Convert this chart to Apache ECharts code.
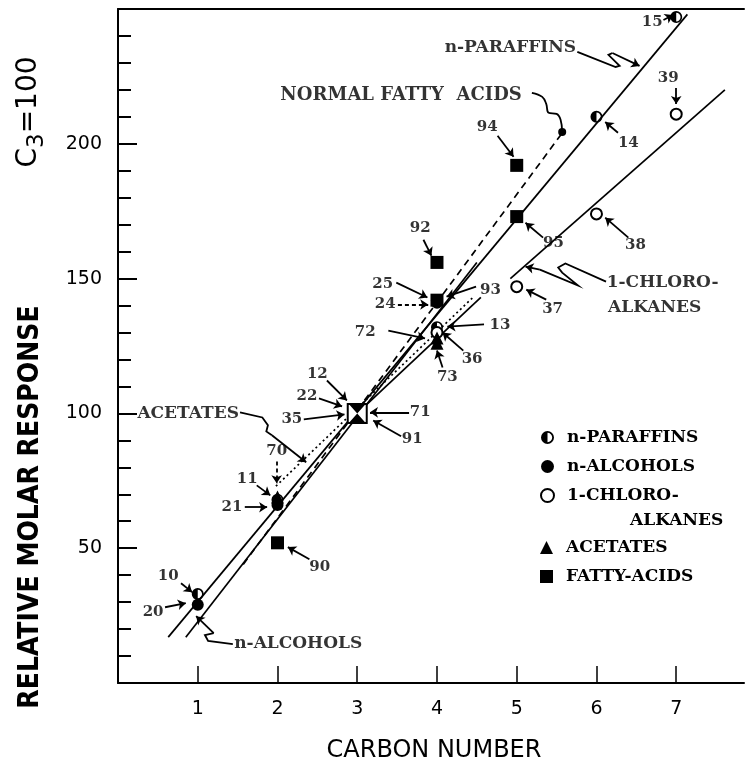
<!DOCTYPE html>
<html><head><meta charset="utf-8">
<script src="https://cdn.jsdelivr.net/npm/echarts@6/dist/echarts.min.js"></script>
<style>html,body{margin:0;padding:0;background:#fff}#c{width:749px;height:768px}</style>
</head><body><div id="c"></div>
<script>
// ---- data (carbon number, relative molar response, C3 = 100) ----
const paraffins      = [[1,33],[2,68],[3,100],[4,132],[6,210],[7,247]];
const paraffinIds    = [10,11,12,13,14,15];
const alcohols       = [[1,29],[2,66],[3,100],[4,141],[4,142]];
const alcoholIds     = [20,21,22,24,25];
const chloroalkanes  = [[3,100],[4,130],[5,147],[6,174],[7,211]];
const chloroIds      = [35,36,37,38,39];
const acetates       = [[2,69],[3,100],[4,128],[4,126]];
const acetateIds     = [70,71,72,73];
const fattyAcids     = [[2,52],[3,100],[4,156],[4,142],[5,192],[5,173]];
const fattyIds       = [90,91,92,93,94,95];

// fitted lines drawn in the figure
const paraffinLine   = [[0.63,17],[7.14,248]];
const alcoholLine    = [[0.85,17],[4.5,156]];
const fattyLine      = [[1.57,44],[5.57,204]];
const acetateLine    = [[1.98,73],[4.45,143]];
const chloroLineLow  = [[3,100],[4.55,143]];
const chloroLineHigh = [[4.92,150],[7.61,220]];

// axis ticks
const xTicks = [1,2,3,4,5,6,7];
const yTickLabels = [50,100,150,200];

// ---- annotations (data coordinates) ----
const annotTexts = [
  ['15',6.70,245.2],['n-PARAFFINS',4.92,235.6,17],['39',6.90,224.4],['NORMAL FATTY  ACIDS',3.55,218.1,18],
  ['94',4.63,206.3],['14',6.40,200.4],['92',3.79,168.9],['95',5.46,163.3],['38',6.49,162.6],
  ['1-CHLORO-',6.83,148.5,17],['ALKANES',6.73,139.3,17],['37',5.45,138.5],['25',3.32,147.8],['24',3.35,140.4],
  ['93',4.67,145.9],['13',4.79,132.6],['72',3.10,130.0],['36',4.44,120.0],['73',4.13,113.3],
  ['12',2.50,114.4],['22',2.37,106.3],['35',2.18,97.8],['71',3.79,100.4],['91',3.69,90.4],
  ['ACETATES',0.88,100.0,17],['70',1.99,85.9],['11',1.62,75.6],['21',1.43,65.2],['90',2.53,43.0],
  ['10',0.63,39.6],['20',0.44,26.3],['n-ALCOHOLS',2.26,14.8,17]
];
const annotArrows = [
  [[6.84,245.9],[6.96,247.8]],[[7.0,220.7],[7.0,214.8]],[[4.76,203.0],[4.96,195.2]],
  [[6.27,204.1],[6.11,208.1]],[[3.83,164.4],[3.93,158.5]],[[5.33,165.2],[5.11,170.7]],
  [[6.40,165.2],[6.11,172.6]],[[5.37,142.2],[5.12,145.9]],[[3.49,148.5],[3.88,143.0]],
  [[4.49,147.0],[4.12,143.3]],[[4.59,133.0],[4.13,132.2]],[[3.39,130.7],[3.85,127.8]],
  [[4.33,123.3],[4.07,130.0]],[[4.07,117.0],[4.0,123.3]],[[2.62,112.2],[2.87,104.8]],
  [[2.52,105.6],[2.81,102.6]],[[2.33,97.8],[2.84,99.6]],[[3.65,100.4],[3.16,100.4]],
  [[3.55,91.5],[3.20,97.4]],[[1.74,73.3],[1.91,69.6]],[[1.59,65.2],[1.87,65.2]],
  [[2.40,45.9],[2.13,50.4]],[[0.79,37.0],[0.93,33.7]],[[0.59,28.1],[0.85,29.6]]
];
const dashedArrows = [[[3.51,140.4],[3.89,140.4]],[[1.99,82.2],[1.99,74.1]]];
const squiggles = [
  [[5.76,234.1],[6.24,228.5],[6.29,228.9],[6.15,233.0],[6.20,233.7],[6.54,228.9]],
  [[6.12,148.9],[5.61,155.6],[5.52,154.1],[5.57,152.2],[5.77,147.4],[5.29,153.3],[5.11,154.4]],
  [[1.53,100.4],[1.81,98.5],[1.88,95.6],[1.86,93.3],[1.93,91.9],[2.36,81.9]],
  [[1.44,14.4],[1.13,15.6],[1.09,17.8],[1.20,18.5],[0.98,24.8]]
];
const fattyCurve = [[5.19,218.9],[5.32,217.4],[5.37,214.8],[5.40,211.5],[5.50,211.1],[5.55,208.9],[5.57,204.4]];

// ---- build ----
const serif = "'DejaVu Serif', 'Liberation Serif', serif";
const sans = "'DejaVu Sans', sans-serif";
const halfCircle = 'path://M50,0 A50,50 0 1,1 50,100 A50,50 0 1,1 50,0 Z M50,14 L50,86 A36,36 0 0,0 50,14 Z';
const hourglass = 'path://M0,0 L20,0 L10,10 Z M10,10 L20,20 L0,20 Z';

function pts(arr, ids, special) {
  return arr.map((p,i) => {
    const it = {name: String(ids[i]), value: p};
    if (p[0] === 3 && special) Object.assign(it, special);
    return it;
  });
}
function fitLine(name, data, type) {
  return {type:'line', name, data, symbol:'none', showSymbol:false, silent:true,
    lineStyle:{color:'#000', width:1.7, type}, z:2};
}
const squiggleArrows = squiggles.map(s => [s[s.length-2], s[s.length-1]]);

const blk = '#000';
const legendText = {color:blk, fontFamily:serif, fontWeight:'bold', fontSize:17, padding:[0,0,0,8]};
const option = {
  animation:false,
  backgroundColor:'#fff',
  grid:{left:118, top:9, right:5, bottom:84, containLabel:false},
  xAxis:[{
    type:'value', min:0, max:7.85, interval:1,
    axisLine:{show:true, onZero:false, lineStyle:{color:blk, width:2}},
    axisTick:{show:true, inside:true, length:17, customValues:xTicks, lineStyle:{color:blk, width:1.5}},
    axisLabel:{margin:17, color:blk, fontSize:19, fontFamily:sans, customValues:xTicks},
    splitLine:{show:false},
    name:'CARBON NUMBER', nameLocation:'middle', nameGap:56,
    nameTextStyle:{color:blk, fontSize:24, fontFamily:sans, padding:[0,0,0,6]}
  },{
    type:'value', position:'top', min:0, max:7.85,
    axisLine:{show:true, onZero:false, lineStyle:{color:blk, width:2}},
    axisTick:{show:false}, axisLabel:{show:false}, splitLine:{show:false}
  }],
  yAxis:{
    type:'value', min:0, max:250, interval:50,
    axisLine:{show:true, onZero:false, lineStyle:{color:blk, width:2}},
    axisTick:{show:true, inside:true, length:19, lineStyle:{color:blk, width:2}},
    minorTick:{show:true, splitNumber:5, length:13, lineStyle:{color:blk, width:2}},
    axisLabel:{margin:16, color:blk, fontSize:19, fontFamily:sans,
      formatter:v => yTickLabels.includes(v) ? String(v) : ''},
    splitLine:{show:false}, minorSplitLine:{show:false}
  },
  legend:[{
    orient:'vertical', left:540, top:429, padding:0, itemWidth:13, itemHeight:13, itemGap:12,
    data:['n-PARAFFINS','n-ALCOHOLS','1-CHLORO-ALKANES'],
    formatter:n => n === '1-CHLORO-ALKANES' ? '1-CHLORO-' : n,
    textStyle:legendText, selectedMode:false
  },{
    orient:'vertical', left:540, top:539, padding:0, itemWidth:13, itemHeight:13, itemGap:12,
    data:['ACETATES','FATTY-ACIDS'],
    textStyle:legendText, selectedMode:false
  }],
  graphic:[
    {type:'text', left:630, top:512, style:{text:'ALKANES', fill:blk, font:"bold 17px 'DejaVu Serif'"}},
    {type:'text', x:31, y:507, rotation:Math.PI/2,
      style:{text:'RELATIVE MOLAR RESPONSE', fill:blk, align:'center', verticalAlign:'middle',
        font:"bold 28px 'DejaVu Sans Condensed', 'Liberation Sans Narrow', 'DejaVu Sans'"}},
    {type:'text', x:29, y:112, rotation:Math.PI/2,
      style:{text:'C{s|3}=100', fill:blk, align:'center', verticalAlign:'middle',
        font:"28px 'DejaVu Sans'", rich:{s:{fontSize:23, fontFamily:'DejaVu Sans', padding:[17,0,0,0]}}}}
  ],
  series:[
    fitLine('paraffinLine', paraffinLine, 'solid'),
    fitLine('alcoholLine', alcoholLine, 'solid'),
    fitLine('fattyLine', fattyLine, [7,5]),
    fitLine('acetateLine', acetateLine, [2,3]),
    fitLine('chloroLineLow', chloroLineLow, 'solid'),
    fitLine('chloroLineHigh', chloroLineHigh, 'solid'),
    {type:'scatter', name:'n-PARAFFINS', data:pts(paraffins, paraffinIds), symbol:halfCircle, symbolSize:12,
      itemStyle:{color:blk, opacity:1}, z:3},
    {type:'scatter', name:'n-ALCOHOLS', data:pts(alcohols, alcoholIds), symbol:'circle', symbolSize:12,
      itemStyle:{color:blk, opacity:1}, z:3},
    {type:'scatter', name:'1-CHLORO-ALKANES', data:pts(chloroalkanes, chloroIds), symbol:'emptyCircle', symbolSize:11,
      itemStyle:{color:blk, borderColor:blk, borderWidth:2, opacity:1}, z:3},
    {type:'scatter', name:'FATTY-ACIDS', data:pts(fattyAcids, fattyIds,
        {symbol:'rect', symbolSize:19, itemStyle:{color:'#fff', borderColor:blk, borderWidth:2}}),
      symbol:'rect', symbolSize:13, itemStyle:{color:blk, opacity:1}, z:4},
    {type:'scatter', name:'ACETATES', data:pts(acetates, acetateIds,
        {symbol:hourglass, symbolSize:[16,18]}),
      symbol:'triangle', symbolSize:13, itemStyle:{color:blk, opacity:1}, z:5},
    {type:'lines', coordinateSystem:'cartesian2d', silent:true, z:6,
      data:annotArrows.concat(squiggleArrows).map(c => ({coords:c})),
      symbol:['none','arrow'], symbolSize:8, lineStyle:{color:blk, width:1.8, opacity:1, curveness:0}},
    {type:'lines', coordinateSystem:'cartesian2d', silent:true, z:6,
      data:dashedArrows.map(c => ({coords:c})),
      symbol:['none','arrow'], symbolSize:8, lineStyle:{color:blk, width:1.8, opacity:1, type:[4,3]}},
    {type:'lines', coordinateSystem:'cartesian2d', polyline:true, silent:true, z:6,
      data:squiggles.map(c => ({coords:c.slice(0, c.length-1)})),
      lineStyle:{color:blk, width:1.8, opacity:1}},
    {type:'line', name:'fattyCurve', data:fattyCurve, smooth:0.4, silent:true, z:6,
      symbol:'none', showSymbol:false, lineStyle:{color:blk, width:1.8},
      markPoint:{symbol:'circle', symbolSize:8, itemStyle:{color:blk}, label:{show:false},
        data:[{coord:fattyCurve[fattyCurve.length-1]}]}},
    {type:'scatter', name:'annot', silent:true, z:7, symbolSize:1, itemStyle:{color:'rgba(0,0,0,0)'},
      data:annotTexts.map(a => ({name:a[0], value:[a[1], a[2]],
        label:{fontSize:a[3] || 15}})),
      label:{show:true, position:'inside', formatter:'{b}', color:blk, textBorderWidth:0,
        fontFamily:serif, fontWeight:'bold', fontSize:15}}
  ]
};
const chart = echarts.init(document.getElementById('c'), null, {renderer:'canvas'});
chart.setOption(option);
</script>
</body></html>
